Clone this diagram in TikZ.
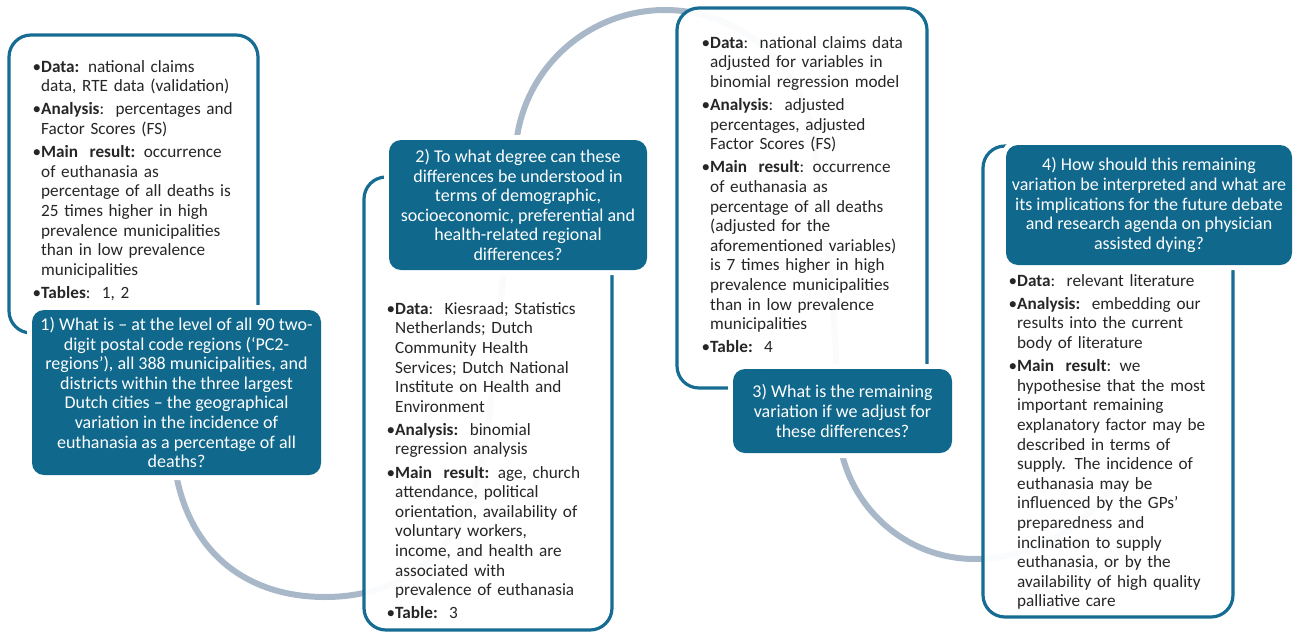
\documentclass[tikz,border=0pt]{standalone}
\usepackage{fontspec}
\setmainfont{Carlito}
\definecolor{qteal}{RGB}{16,104,140}
\definecolor{bteal}{RGB}{22,108,146}
\definecolor{wavec}{RGB}{168,184,200}
\definecolor{txtc}{RGB}{38,38,38}
\newcommand{\bul}{\leavevmode\llap{•}}
\newcommand{\fst}{\leavevmode\rule{0pt}{13pt}}
\tikzset{
  wbox/.style={draw=bteal, line width=3.2pt, fill=white, fill opacity=0.95, rounded corners=22pt, inner sep=0pt},
  qbox/.style={fill=qteal, rounded corners=12pt, inner sep=0pt, text=white, align=center,
    font=\fontsize{18}{19.6}\selectfont, preaction={draw=white, line width=10pt}},
  tbox/.style={anchor=north west, inner sep=0pt, text width=270pt, align=left, text=txtc,
    font=\fontsize{17.2}{19.6}\selectfont},
  wavestyle/.style={draw=wavec, line width=6pt}
}
\begin{document}
\begin{tikzpicture}[x=1pt,y=-1pt]
\useasboundingbox (0,0) rectangle (1293,635);
% wave connector
\coordinate (w0) at (173,450);
\coordinate (w1) at (325,597);
\coordinate (w2) at (480,470);
\coordinate (w3) at (517,137);
\coordinate (w4) at (665,10);
\coordinate (w5) at (813,137);
\coordinate (w6) at (838,421);
\coordinate (w7) at (975,559);
\coordinate (w8) at (1110,490);
\draw[wavestyle] (w0) .. controls (180,545) and (240,597) .. (w1)
  .. controls (400,597) and (460,555) .. (w2)
  .. controls (498,392) and (505,216) .. (w3)
  .. controls (528,64) and (591,10) .. (w4)
  .. controls (739,10) and (802,64) .. (w5)
  .. controls (825,220) and (838,330) .. (w6)
  .. controls (838,497) and (899,559) .. (w7)
  .. controls (1030,559) and (1080,530) .. (w8);
% white boxes
\node[wbox, minimum width=249pt, minimum height=298pt] (b1) at (133.5,184) {};
\node[wbox, minimum width=248pt, minimum height=453pt] (b2) at (488,403.5) {};
\node[wbox, minimum width=250pt, minimum height=380pt] (b3) at (802,198) {};
\node[wbox, minimum width=250pt, minimum height=471pt] (b4) at (1108,381.5) {};
% texts
\node[tbox] (t1) at (41,59) {\fst\bul\textbf{Data:} national claims\\
data, RTE data (validation)\\[3.5pt]
\bul\textbf{Analysis}:\ \ percentages and\\
Factor Scores (FS)\\[3.5pt]
\bul\textbf{Main\ \ result:} occurrence\\
of euthanasia as\\
percentage of all deaths is\\
25 times higher in high\\
prevalence municipalities\\
than in low prevalence\\
municipalities\\[3.5pt]
\bul\textbf{Tables}:\ \ 1, 2};
\node[tbox] (t2) at (395,301) {\fst\bul\textbf{Data}:\ \ Kiesraad; Statistics\\
Netherlands; Dutch\\
Community Health\\
Services; Dutch National\\
Institute on Health and\\
Environment\\[3.5pt]
\bul\textbf{Analysis:}\ \ binomial\\
regression analysis\\[3.5pt]
\bul\textbf{Main\ \ result:} age, church\\
attendance, political\\
orientation, availability of\\
voluntary workers,\\
income, and health are\\
associated with\\
prevalence of euthanasia\\[3.5pt]
\bul\textbf{Table:}\ \ 3};
\node[tbox] (t3) at (710,35) {\fst\bul\textbf{Data}:\ \ national claims data\\
adjusted for variables in\\
binomial regression model\\[3.5pt]
\bul\textbf{Analysis}:\ \ adjusted\\
percentages, adjusted\\
Factor Scores (FS)\\[3.5pt]
\bul\textbf{Main\ \ result}: occurrence\\
of euthanasia as\\
percentage of all deaths\\
(adjusted for the\\
aforementioned variables)\\
is 7 times higher in high\\
prevalence municipalities\\
than in low prevalence\\
municipalities\\[3.5pt]
\bul\textbf{Table:}\ \ 4};
\node[tbox] (t4) at (1017,273) {\fst\bul\textbf{Data}:\ \ relevant literature\\[3.5pt]
\bul\textbf{Analysis:}\ \ embedding our\\
results into the current\\
body of literature\\[3.5pt]
\bul\textbf{Main\ \ result}: we\\
hypothesise that the most\\
important remaining\\
explanatory factor may be\\
described in terms of\\
supply. The incidence of\\
euthanasia may be\\
influenced by the GPs’\\
preparedness and\\
inclination to supply\\
euthanasia, or by the\\
availability of high quality\\
palliative care};
% question boxes
\node[qbox, minimum width=289pt, minimum height=165pt] (q1) at (176.5,392.5) {1) What is – at the level of all 90 two-\\
digit postal code regions (‘PC2-\\
regions’), all 388 municipalities, and\\
districts within the three largest\\
Dutch cities – the geographical\\
variation in the incidence of\\
euthanasia as a percentage of all\\
deaths?};
\node[qbox, minimum width=258pt, minimum height=130pt] (q2) at (518,205) {2) To what degree can these\\
differences be understood in\\
terms of demographic,\\
socioeconomic, preferential and\\
health-related regional\\
differences?};
\node[qbox, minimum width=219pt, minimum height=84pt] (q3) at (842.5,411) {3) What is the remaining\\
variation if we adjust for\\
these differences?};
\node[qbox, minimum width=286pt, minimum height=120pt] (q4) at (1149,205) {4) How should this remaining\\
variation be interpreted and what are\\
its implications for the future debate\\
and research agenda on physician\\
assisted dying?};
\end{tikzpicture}
\end{document}
